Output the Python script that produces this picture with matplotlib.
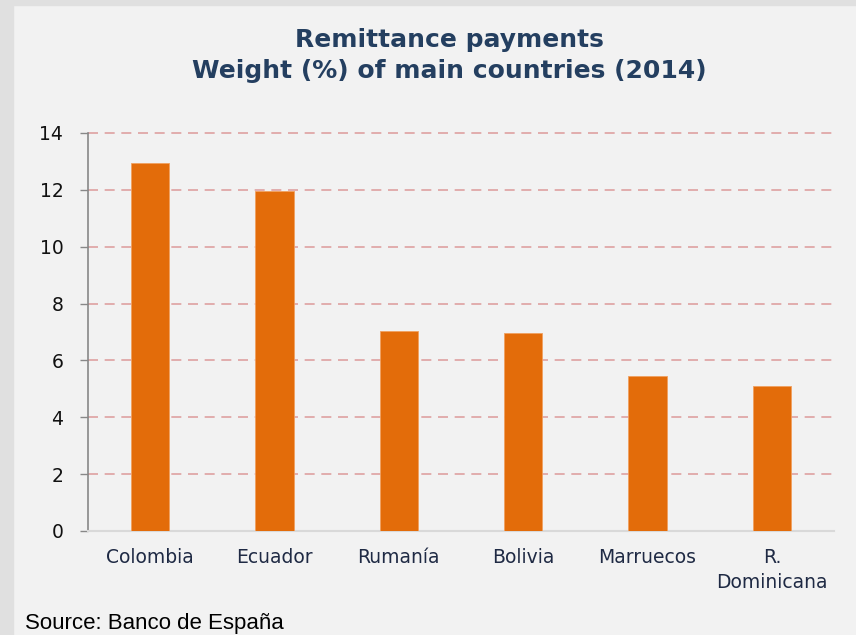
import matplotlib
matplotlib.use("Agg")
import matplotlib.pyplot as plt
from matplotlib.patches import Rectangle

categories = ["Colombia", "Ecuador", "Rumanía", "Bolivia", "Marruecos", "R.\nDominicana"]
values = [12.95, 11.97, 7.04, 6.98, 5.45, 5.10]
yticks = [0, 2, 4, 6, 8, 10, 12, 14]

W, H = 856, 635
fig = plt.figure(figsize=(W / 100, H / 100), dpi=100)
fig.patch.set_facecolor("#f2f2f2")
# outer grey frame strips
fig.add_artist(Rectangle((0, 0), 13 / W, 1, transform=fig.transFigure, color="#e0e0e0", zorder=0))
fig.add_artist(Rectangle((0, 1 - 5 / H), 1, 5 / H, transform=fig.transFigure, color="#e0e0e0", zorder=0))

ax = fig.add_axes([88 / W, 1 - 531 / H, (834 - 88) / W, (531 - 133) / H])
ax.set_facecolor("#f2f2f2")
x = list(range(len(categories)))
ax.bar(x, values, width=0.31, color="#e36c0a", edgecolor="#f0a060", linewidth=0.6, zorder=3)
ax.set_xlim(-0.5, len(categories) - 0.5)
ax.set_ylim(0, 14)
ax.set_yticks(yticks)
ax.set_yticklabels([str(v) for v in yticks], fontfamily="DejaVu Sans", fontsize=13.5, color="#111111")
ax.set_xticks(x)
ax.set_xticklabels(categories, fontfamily="DejaVu Sans", fontsize=13.5, color="#1f2a44", linespacing=1.45)
ax.tick_params(axis="x", length=0, pad=12)
ax.tick_params(axis="y", length=5.8, width=1, color="#888888", pad=12, direction="out")
ax.yaxis.grid(True, linestyle=(0, (6, 4)), color="#d98c8c", alpha=0.8, linewidth=1.2, zorder=1, clip_on=False)
for s in ["top", "right"]:
    ax.spines[s].set_visible(False)
ax.spines["left"].set_color("#888888")
ax.spines["left"].set_linewidth(1.2)
ax.spines["bottom"].set_color("#d9d9d9")
ax.spines["bottom"].set_linewidth(1.5)

fig.text(449 / W, 1 - 40 / H, "Remittance payments", ha="center", va="center",
         fontfamily="DejaVu Sans", fontweight="bold", fontsize=18, color="#243f60")
fig.text(449 / W, 1 - 71 / H, "Weight (%) of main countries (2014)", ha="center", va="center",
         fontfamily="DejaVu Sans", fontweight="bold", fontsize=18, color="#243f60")
fig.text(25 / W, 1 - 623 / H, "Source: Banco de España", ha="left", va="center",
         fontfamily="Liberation Sans", fontsize=16, color="#000000")

fig.savefig("out.png", dpi=100, facecolor=fig.get_facecolor())
